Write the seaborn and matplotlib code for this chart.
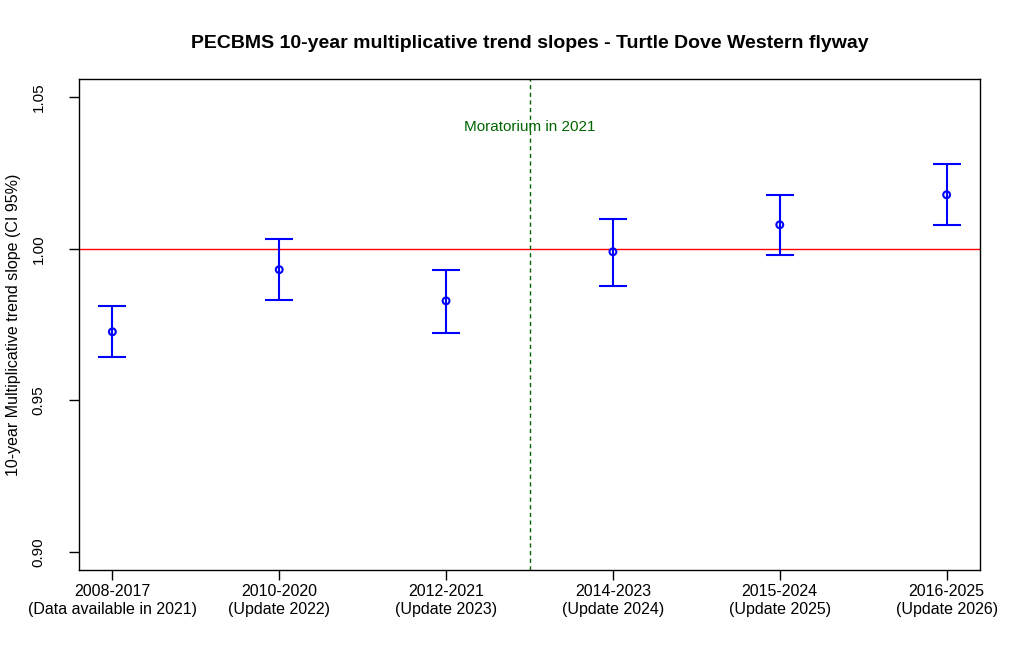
import matplotlib
matplotlib.use("Agg")
import matplotlib.pyplot as plt
import seaborn as sns
import pandas as pd

periods = ["2008-2017", "2010-2020", "2012-2021", "2014-2023", "2015-2024", "2016-2025"]
notes = ["(Data available in 2021)", "(Update 2022)", "(Update 2023)",
         "(Update 2024)", "(Update 2025)", "(Update 2026)"]
slope = [0.9726, 0.9931, 0.9828, 0.9990, 1.0079, 1.0178]
lower = [0.9642, 0.9832, 0.9723, 0.9878, 0.9980, 1.0079]
upper = [0.9812, 1.0033, 0.9931, 1.0099, 1.0178, 1.0280]
yticks = [0.90, 0.95, 1.00, 1.05]

sns.set_theme(style="white")
plt.rcParams['font.family'] = ['Liberation Sans', 'DejaVu Sans']
plt.rcParams['text.color'] = 'black'
plt.rcParams['axes.labelcolor'] = 'black'

df = pd.DataFrame({"x": range(1, len(periods) + 1), "slope": slope,
                   "lower": lower, "upper": upper})

fig = plt.figure(figsize=(10.21, 6.69), dpi=100)
ax = fig.add_axes([79/1021, (669-570)/669, 901/1021, 491/669])

ax.errorbar(df["x"], df["slope"],
            yerr=[df["slope"] - df["lower"], df["upper"] - df["slope"]],
            fmt="none", ecolor="blue", elinewidth=1.5, capsize=10, capthick=1.5, zorder=2)
sns.scatterplot(data=df, x="x", y="slope", ax=ax, marker="o", s=24,
                facecolor="none", edgecolor="blue", linewidth=1.5, zorder=3)

ax.axhline(1.0, color="red", lw=1, zorder=1)
ax.axvline(3.5, color="#006400", lw=1, ls=(0, (3, 2.5)), zorder=1)
ax.text(3.5, 1.04, "Moratorium in 2021", color="#006400", ha="center", va="center", fontsize=11)

ax.set_xlim(0.8, 6.2)
ax.set_ylim(0.894, 1.056)
ax.set_xticks(df["x"])
ax.set_xticklabels([f"{p}\n{n}" for p, n in zip(periods, notes)], fontsize=11.5, linespacing=1.25)
ax.set_yticks(yticks)
ax.set_yticklabels([f"{v:.2f}" for v in yticks], fontsize=11, rotation=90, va="center")
ax.tick_params(axis="both", direction="out", length=7, width=1, color="black",
               left=True, bottom=True, labelcolor="black")
ax.tick_params(axis="x", pad=3)
ax.tick_params(axis="y", pad=17)
for s in ax.spines.values():
    s.set_color("black")
    s.set_linewidth(1)
ax.set_xlabel("")
ax.set_ylabel("10-year Multiplicative trend slope (CI 95%)", fontsize=11.5, labelpad=8, color="black")
ax.set_title("PECBMS 10-year multiplicative trend slopes - Turtle Dove Western flyway",
             fontsize=14, fontweight="bold", pad=22, color="black")

fig.savefig("out.png", dpi=100)
